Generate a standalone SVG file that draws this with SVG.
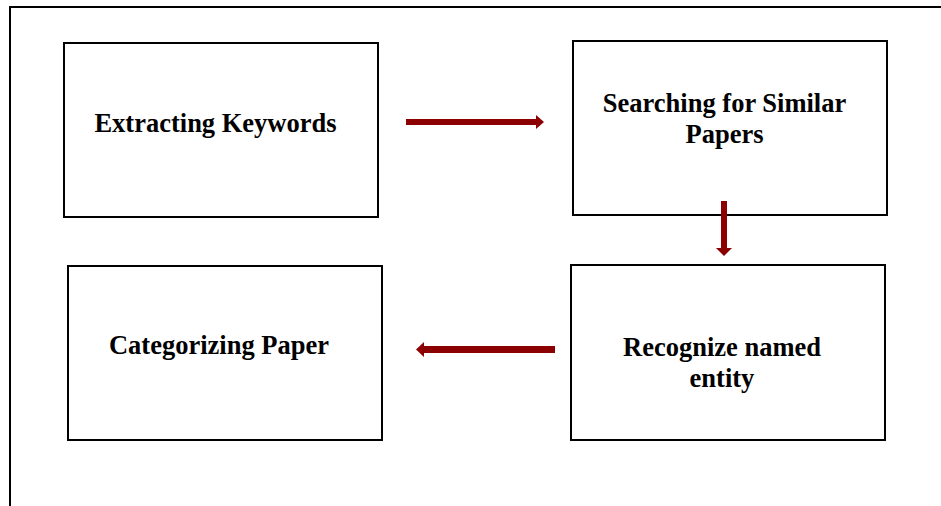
<svg xmlns="http://www.w3.org/2000/svg" width="941" height="506" viewBox="0 0 941 506">
  <style>
    .box { fill: #ffffff; stroke: #000000; stroke-width: 2; }
    .label { font-family: "Liberation Serif", "Times New Roman", serif; font-weight: bold; font-size: 26.5px; fill: #000000; text-anchor: middle; }
    .flow { fill: #8b0000; stroke: none; }
  </style>
  <rect width="941" height="506" fill="#ffffff"/>
  <!-- outer frame, open at right and bottom -->
  <path d="M10,510 L10,7 L945,7" fill="none" stroke="#000000" stroke-width="2"/>

  <g id="extracting-keywords">
    <rect class="box" x="64" y="43" width="314" height="174"/>
    <text class="label" x="215.5" y="131.5">Extracting Keywords</text>
  </g>
  <g id="searching-similar-papers">
    <rect class="box" x="573" y="41" width="314" height="174"/>
    <text class="label" x="724.5" y="111.5">Searching for Similar</text>
    <text class="label" x="724.5" y="143">Papers</text>
  </g>
  <g id="categorizing-paper">
    <rect class="box" x="68" y="266" width="314" height="174"/>
    <text class="label" x="219" y="353.5">Categorizing Paper</text>
  </g>
  <g id="recognize-named-entity">
    <rect class="box" x="571" y="265" width="314" height="175"/>
    <text class="label" x="722" y="355.5">Recognize named</text>
    <text class="label" x="722" y="387">entity</text>
  </g>

  <g id="connectors">
    <!-- keywords to search -->
    <polygon class="flow" points="406,119 536,119 536,115 544,122 536,129 536,125 406,125"/>
    <!-- search to recognition -->
    <polygon class="flow" points="721,201 727,201 727,248 732,248 724,256 716,248 721,248"/>
    <!-- recognition to categorizing -->
    <polygon class="flow" points="555,346 424,346 424,342 416,349.5 424,357 424,353 555,353"/>
  </g>
</svg>
